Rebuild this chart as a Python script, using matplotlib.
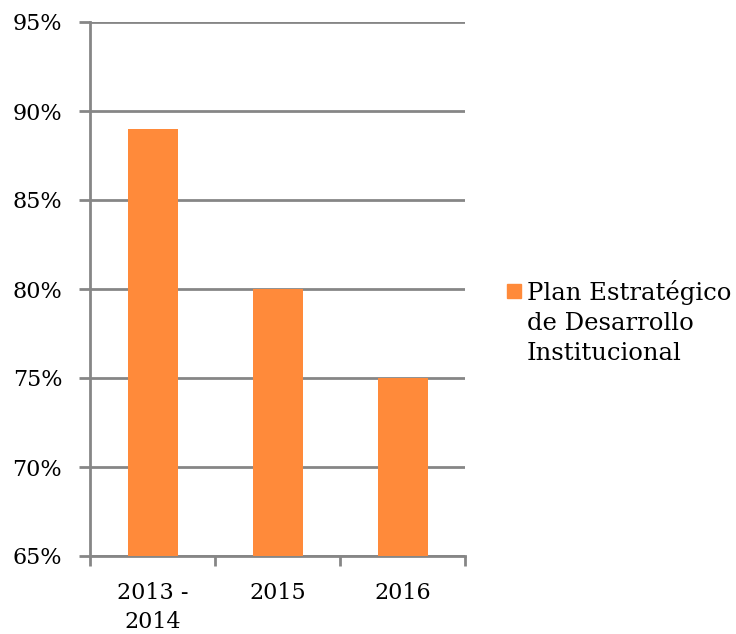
import numpy as np
import matplotlib.pyplot as plt
from matplotlib.patches import Rectangle
from matplotlib.ticker import FixedLocator, PercentFormatter

# Data
categories = ['2013 -\n2014', '2015', '2016']
values = [89, 80, 75]
series_name = 'Plan Estratégico\nde Desarrollo\nInstitucional'
y_ticks = [65, 70, 75, 80, 85, 90, 95]
bar_color = '#FF8A3A'
grid_color = '#868686'

plt.rcParams['font.family'] = ['DejaVu Serif']

fig = plt.figure(figsize=(7.36, 6.34), dpi=100)
ax = fig.add_axes([90/736, 1 - 556/634, 375/736, 534/634])

x = np.arange(len(categories))
ax.bar(x, values, width=0.4, color=bar_color, zorder=3)

ax.set_xlim(-0.5, len(categories) - 0.5)
ax.set_ylim(65, 95)
ax.set_yticks(y_ticks)
ax.yaxis.set_major_formatter(PercentFormatter(decimals=0))
ax.grid(axis='y', color=grid_color, linewidth=2, zorder=0)

ax.set_xticks(x)
ax.set_xticklabels(categories, linespacing=1.4)
ax.xaxis.set_minor_locator(FixedLocator(np.arange(-0.5, len(categories), 1)))
ax.tick_params(axis='x', which='major', length=0, pad=19, labelsize=16)
ax.tick_params(axis='x', which='minor', length=7, width=2, color=grid_color)
ax.tick_params(axis='y', length=8, width=2, color=grid_color, labelsize=16, pad=12)

for s in ['top', 'right']:
    ax.spines[s].set_visible(False)
for s in ['left', 'bottom']:
    ax.spines[s].set_color(grid_color)
    ax.spines[s].set_linewidth(2)

# Legend: square aligned with the first line of the series name
fig.patches.append(Rectangle((507/736, 1 - 298/634), 14/736, 14/634,
                             transform=fig.transFigure, color=bar_color))
fig.text(527/736, 1 - 280/634, series_name, fontsize=17.5, va='top', ha='left',
         linespacing=1.38)

fig.savefig('out.png', dpi=100)
